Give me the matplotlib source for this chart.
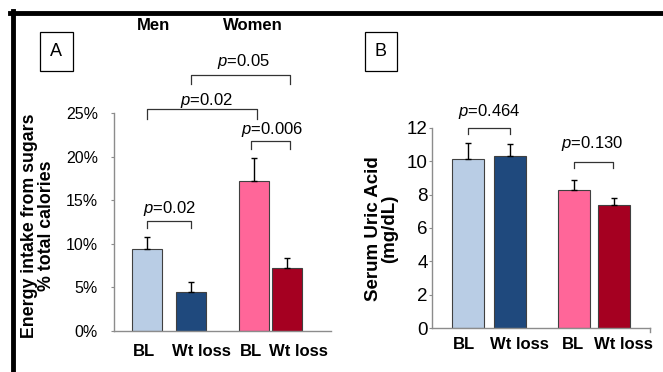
import numpy as np
import matplotlib.pyplot as plt
from matplotlib.patches import Rectangle

# data
labels = ['BL', 'Wt loss', 'BL', 'Wt loss']
colors = ['#B9CDE5', '#1F497D', '#FF6699', '#A50021']

sugar = [9.4, 4.5, 17.2, 7.2]
sugar_err = [1.4, 1.1, 2.7, 1.15]
sugar_p = ['0.02', '0.02', '0.05', '0.006']

uric = [10.1, 10.3, 8.3, 7.4]
uric_err = [1.0, 0.7, 0.6, 0.4]
uric_p = ['0.464', '0.130']

plt.rcParams['font.family'] = ['Liberation Sans', 'DejaVu Sans']
plt.rcParams['mathtext.fontset'] = 'custom'
plt.rcParams['mathtext.it'] = 'Liberation Sans:italic'
plt.rcParams['mathtext.rm'] = 'Liberation Sans'

W, H = 663, 372
fig = plt.figure(figsize=(6.63, 3.72), dpi=100)

# thick frame lines top / left
fig.add_artist(plt.Line2D([10/W, 1.0], [1-13/H, 1-13/H], color='black', lw=3.5))
fig.add_artist(plt.Line2D([12.5/W, 12.5/W], [0, 1-11/H], color='black', lw=3.5))


def style_axis(ax, ysize, ypad, xsize, xpad):
    for s in ['top', 'right']:
        ax.spines[s].set_visible(False)
    for s in ['left', 'bottom']:
        ax.spines[s].set_color('#8c8c8c')
        ax.spines[s].set_linewidth(1.0)
    ax.tick_params(axis='y', direction='out', length=2.5, color='#8c8c8c', pad=ypad,
                   labelsize=ysize)
    ax.tick_params(axis='x', length=0, pad=xpad, labelsize=xsize)
    for t in ax.get_xticklabels():
        t.set_fontweight('bold')


def bracket(ax, x1, x2, y, leg, text, ty, tx=None):
    ax.plot([x1, x1, x2, x2], [y - leg, y, y, y - leg], color='#333333', lw=0.9,
            clip_on=False)
    if tx is None:
        tx = (x1 + x2) / 2
    ax.text(tx, ty, '$\\it{p}$=' + text, ha='center', va='center', fontsize=12,
            clip_on=False)


# panel A
axA = fig.add_axes([114/W, 1-331/H, (331-114)/W, (331-113.3)/H])
xa = np.array([0, 1, 2.44, 3.18])
axA.bar(xa, sugar, width=0.68, color=colors, edgecolor='#404040', linewidth=0.8)
axA.errorbar(xa, sugar, yerr=[np.zeros(4), sugar_err], fmt='none', ecolor='black',
             elinewidth=1.0, capsize=2, capthick=1.0)
axA.set_xlim(-0.75, 4.18)
axA.set_ylim(0, 25)
axA.set_yticks([0, 5, 10, 15, 20, 25])
axA.set_yticklabels(['%d%%' % v for v in [0, 5, 10, 15, 20, 25]])
axA.set_xticks([-0.06, 1.23, 2.36, 3.45])
axA.set_xticklabels(labels)
style_axis(axA, 11.5, 9, 12, 9)
fig.text(38/W, 1-226/H, 'Energy intake from sugars\n% total calories', rotation=90,
         ha='center', va='center', fontsize=12.8, fontweight='bold', linespacing=1.0)
bracket(axA, 0, 1, 12.65, 0.85, sugar_p[0], 14.1)
bracket(axA, 0, 2.5, 25.55, 1.15, sugar_p[1], 26.5, tx=1.35)
bracket(axA, 1, 3.25, 29.4, 1.0, sugar_p[2], 31.0, tx=2.2)
bracket(axA, 2.37, 3.25, 21.8, 0.9, sugar_p[3], 23.1, tx=2.85)

fig.text(153/W, 1-26/H, 'Men', ha='center', va='center', fontsize=12, fontweight='bold')
fig.text(253/W, 1-26/H, 'Women', ha='center', va='center', fontsize=12, fontweight='bold')

# panel B
axB = fig.add_axes([432/W, 1-328.3/H, (650-432)/W, (328.3-127.7)/H])
xb = np.array([0, 1, 2.52, 3.47])
axB.bar(xb, uric, width=0.75, color=colors, edgecolor='#404040', linewidth=0.8)
axB.errorbar(xb, uric, yerr=[np.zeros(4), uric_err], fmt='none', ecolor='black',
             elinewidth=1.0, capsize=2, capthick=1.0)
axB.set_xlim(-0.86, 4.32)
axB.set_ylim(0, 12)
axB.set_yticks(range(0, 13, 2))
axB.set_xticks([-0.09, 1.21, 2.49, 3.7])
axB.set_xticklabels(labels)
style_axis(axB, 13.5, 0.5, 12, 6)
axB.plot([4.32, 4.32], [0, -0.2], color='#8c8c8c', lw=1.0, clip_on=False)
fig.text(381.7/W, 1-228.5/H, 'Serum Uric Acid\n(mg/dL)', rotation=90,
         ha='center', va='center', fontsize=13.5, fontweight='bold', linespacing=0.95)
bracket(axB, 0, 1, 11.96, 0.36, uric_p[0], 12.95, tx=0.5)
bracket(axB, 2.52, 3.45, 9.96, 0.4, uric_p[1], 11.05, tx=2.95)

# panel letters in boxes
for lab, x0, x1 in [('A', 40, 72.7), ('B', 365, 396.7)]:
    fig.add_artist(Rectangle((x0/W, 1-70.7/H), (x1-x0)/W, 38.5/H, transform=fig.transFigure,
                             facecolor='white', edgecolor='black', lw=0.9))
    fig.text((x0 + x1) / 2 / W, 1-51.5/H, lab, ha='center', va='center', fontsize=13)

fig.savefig('out.png', dpi=100)
